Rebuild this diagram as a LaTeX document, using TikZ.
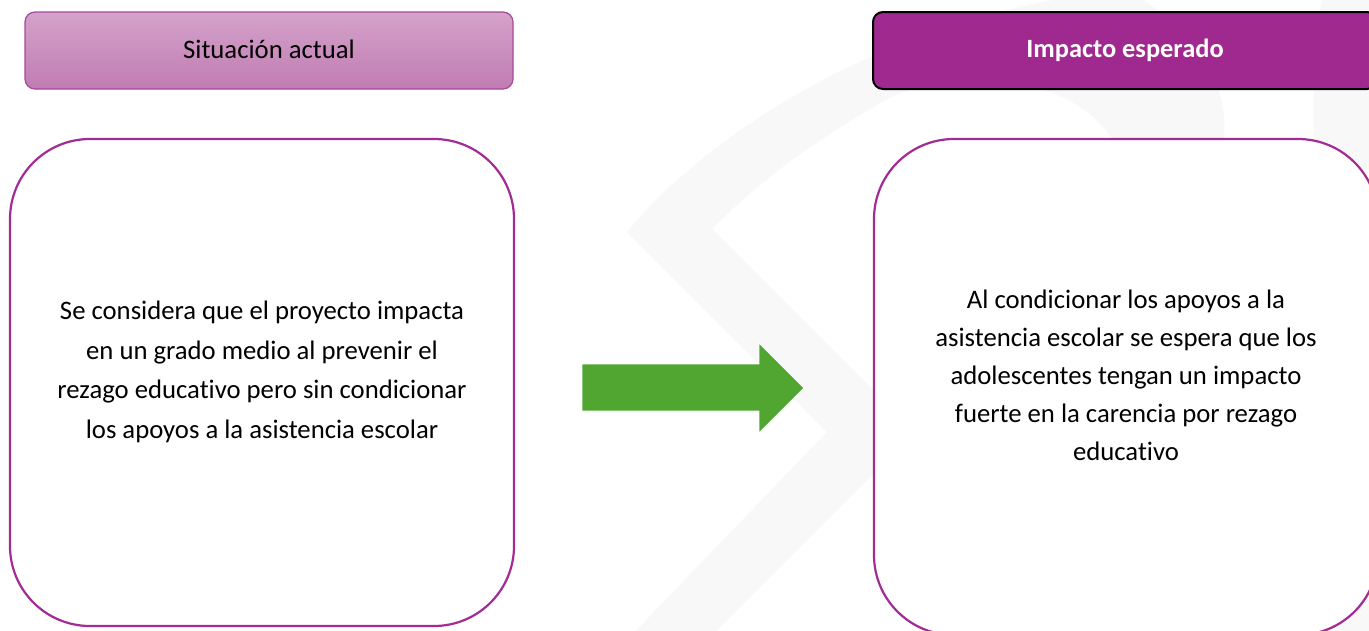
\documentclass[tikz,border=0pt]{standalone}
\usepackage{fontspec}
\setmainfont{Carlito}[Ligatures={NoCommon}]
\definecolor{plum}{RGB}{163,43,150}
\definecolor{headfill}{RGB}{160,41,143}
\definecolor{lighttop}{RGB}{212,162,202}
\definecolor{lightbot}{RGB}{192,124,178}
\definecolor{lightborder}{RGB}{168,72,156}
\definecolor{arrowgreen}{RGB}{80,166,48}
\definecolor{wm}{RGB}{248,248,248}
\tikzset{
  headlight/.style={draw=lightborder, line width=1.2pt, rounded corners=10pt,
    top color=lighttop, bottom color=lightbot, minimum width=488pt, minimum height=77pt,
    text=black, font=\fontsize{26.7}{32}\selectfont},
  headdark/.style={draw=black, line width=2pt, rounded corners=10pt, fill=headfill,
    minimum width=504pt, minimum height=77pt, text=white,
    font=\fontsize{26.4}{32}\selectfont\bfseries},
  bigbox/.style={draw=plum, line width=2.2pt, rounded corners=80pt, fill=white},
  bodytext/.style={align=center, text=black},
  wmark/.style={fill=wm, draw=none}
}
\begin{document}
\begin{tikzpicture}[x=1pt, y=-1pt]
\useasboundingbox (0,0) rectangle (1369,630);
\clip (0,0) rectangle (1369,630);
\fill[white] (0,0) rectangle (1369,630);
% watermark
\fill[wmark] (627,232) .. controls (720,120) and (900,20) .. (1085,-5) -- (1137,-5)
  .. controls (1200,40) and (1245,100) .. (1215,170) -- (1125,170)
  .. controls (1105,75) and (950,55) .. (872,108)
  .. controls (800,150) and (750,190) .. (712,229) -- cycle;
\fill[wmark] (627,232) -- (827,432) -- (627,640) -- (707,640) -- (915,432) -- (712,229) -- cycle;
\fill[wmark] (1323,-5) -- (1375,-5) -- (1375,170) -- (1315,170) .. controls (1311,100) and (1314,40) .. (1323,-5);
\fill[wmark] (1290,640) -- (1375,555) -- (1375,640) -- cycle;
% headers
\node[headlight] (h1) at (269,50.5) {\raisebox{3pt}{Situación actual}};
\node[headdark] (h2) at (1125,50.5) {\raisebox{3pt}{Impacto esperado}};
% big boxes
\node[bigbox, minimum width=504pt, minimum height=487pt] (b1) at (262,382.5) {};
\node[bigbox, minimum width=504pt, minimum height=496pt] (b2) at (1126,387) {};
\node[bodytext, font=\fontsize{26.7}{39.6}\selectfont] (t1) at (262,372)
  {Se considera que el proyecto impacta\\ en un grado medio al prevenir el\\ rezago educativo pero sin condicionar\\ los apoyos a la asistencia escolar};
\node[bodytext, font=\fontsize{26.7}{38}\selectfont] (t2) at (1126,375.5)
  {Al condicionar los apoyos a la\\ asistencia escolar se espera que los\\ adolescentes tengan un impacto\\ fuerte en la carencia por rezago\\ educativo};
% arrow
\draw[fill=arrowgreen, draw=white, line width=0.8pt]
  (582,364) -- (759,364) -- (759,343) -- (804,388) -- (759,433) -- (759,411) -- (582,411) -- cycle;
\end{tikzpicture}
\end{document}
